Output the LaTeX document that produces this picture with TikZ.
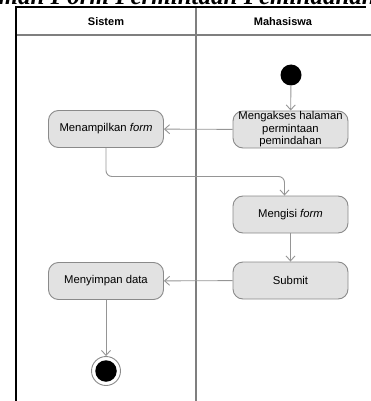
\documentclass[tikz,border=0pt]{standalone}
\usepackage{fontspec}
\setmainfont{Liberation Sans}
\newfontfamily\captionserif{Liberation Serif}
\usetikzlibrary{arrows.meta}
\definecolor{actfill}{HTML}{E2E2E2}
\definecolor{actline}{HTML}{8A8A8A}
\definecolor{flowline}{HTML}{959595}
\definecolor{laneline}{HTML}{7F7F7F}
\begin{document}
\begin{tikzpicture}[x=1pt,y=-1pt,
  act/.style={rectangle, rounded corners=10pt, draw=actline, line width=0.9pt,
    fill=actfill, minimum width=115pt, minimum height=37pt, inner sep=0pt,
    align=center, font=\fontsize{11.3}{12.5}\selectfont},
  flow/.style={draw=flowline, line width=0.9pt,
    -{Straight Barb[length=5pt,width=9pt,line width=0.9pt]}},
  lanehead/.style={font=\fontsize{11}{12}\selectfont\bfseries}]
\useasboundingbox (0,0) rectangle (371,401);
\clip (0,0) rectangle (371,401);

% heading of the page, running off the top edge
\node[anchor=base east, inner sep=0pt, font=\captionserif\fontsize{25}{28}\selectfont\bfseries\itshape]
  (heading) at (376,4.5) {Halaman Form Permintaan Pemindahan};

% swimlanes
\draw[laneline, line width=1.6pt] (16,35) -- (371,35);
\draw[laneline, line width=1.6pt] (196,7) -- (196,401);
\draw[black, line width=1.1pt] (16,401) -- (16,7) -- (366,7);
\node[lanehead] (laneA) at (106,21.5) {Sistem};
\node[lanehead] (laneB) at (283,21.5) {Mahasiswa};

% activity nodes
\node[circle, fill=black, minimum size=21pt, inner sep=0pt] (start) at (291,75) {};
\node[act] (akses) at (290.5,129.5) {Mengakses halaman\\permintaan\\pemindahan};
\node[act] (tampil) at (106,129) {Menampilkan \textit{form}};
\node[act] (isi) at (290.5,214.5) {Mengisi \textit{form}};
\node[act] (submit) at (290.5,280.5) {Submit};
\node[act] (simpan) at (106,281) {Menyimpan data};
\node[circle, draw=actline, fill=white, line width=0.9pt, minimum size=29pt, inner sep=0pt] (finish) at (106,371) {};
\node[circle, fill=black, minimum size=21.5pt, inner sep=0pt] (finishdot) at (finish) {};

% control flows
\coordinate (turn) at (284.5,176.5);
\draw[flow] (start) -- (akses);
\draw[flow] (akses) -- (tampil);
\draw[flow, rounded corners=6pt] (tampil.south) |- (turn) -- (turn |- isi.north);
\draw[flow] (isi) -- (submit);
\draw[flow] (submit) -- (simpan);
\draw[flow] (simpan) -- (finish);
\end{tikzpicture}
\end{document}
